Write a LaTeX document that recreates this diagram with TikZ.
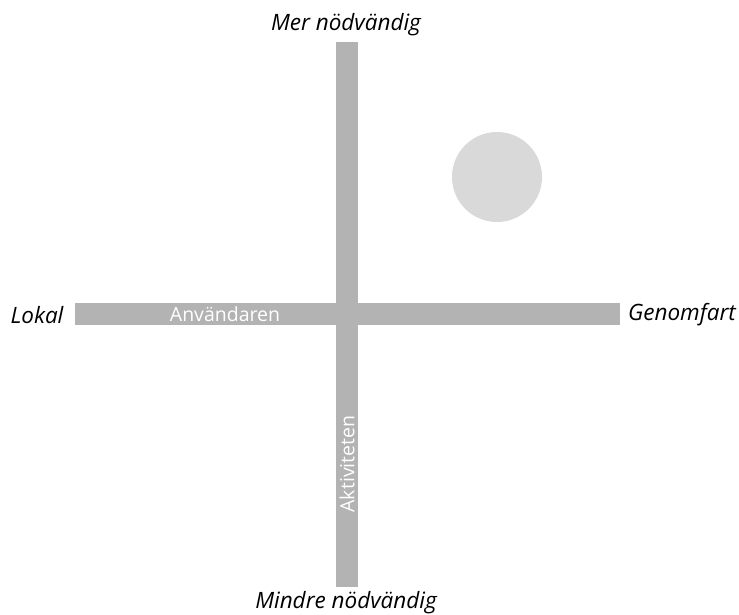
\documentclass[tikz,border=0pt]{standalone}
\usepackage{fontspec}
\setmainfont{Open Sans}
\definecolor{bargrey}{HTML}{B3B3B3}
\definecolor{circgrey}{HTML}{D9D9D9}
\begin{document}
\begin{tikzpicture}[x=1pt,y=-1pt,
  bar/.style={fill=bargrey,draw=none},
  axislabel/.style={font=\fontsize{22.5}{26}\selectfont\itshape,text=black,inner sep=0pt},
  barlabel/.style={font=\fontsize{19.5}{22}\selectfont,text=white,inner sep=0pt}]
\useasboundingbox (0,0) rectangle (739,615);
\fill[bar] (75,303) rectangle (620,325);
\fill[bar] (336,42) rectangle (358,587);
\node[circle,fill=circgrey,minimum size=90pt,inner sep=0pt] (c) at (497,177) {};
\node[axislabel] (top) at (346,25) {Mer nödvändig};
\node[axislabel] (bot) at (346,603) {Mindre nödvändig};
\node[axislabel] (left) at (37,315) {Lokal};
\node[axislabel] (right) at (682,315) {Genomfart};
\node[barlabel] (h) at (225,314) {Användaren};
\node[barlabel,rotate=90] (v) at (347,464) {Aktiviteten};
\end{tikzpicture}
\end{document}
